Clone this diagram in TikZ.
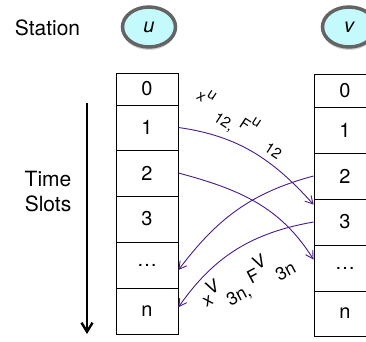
\documentclass[tikz,border=0pt]{standalone}
\usepackage{fontspec}
\setmainfont{TeX Gyre Heros}
\setsansfont{TeX Gyre Heros}
\usetikzlibrary{arrows.meta,shapes.geometric,shadows}
\definecolor{arrowpurple}{RGB}{72,28,140}
\definecolor{stationfill}{RGB}{196,250,252}
\definecolor{ringgray}{RGB}{100,100,100}
\tikzset{
  cell/.style={draw, line width=0.9pt, minimum width=62pt, inner sep=0pt, font=\fontsize{20}{24}\selectfont},
  station/.style={ellipse, draw=ringgray, line width=3.5pt, fill=stationfill, minimum width=53pt, minimum height=40pt, inner sep=0pt,
    drop shadow={shadow xshift=0pt, shadow yshift=-3pt, opacity=0.35}, font=\fontsize{20}{24}\selectfont\itshape},
  plain/.style={font=\fontsize{21}{25}\selectfont, align=center, inner sep=0pt},
  link/.style={arrowpurple, line width=0.9pt, -{Straight Barb[length=7.5pt,width=8.5pt]}},
  timearrow/.style={line width=2.4pt, -{Straight Barb[length=9pt,width=11pt,line width=2.4pt]}},
  lbl/.style={inner sep=0pt}
}
\begin{document}
\begin{tikzpicture}[x=1pt,y=1pt]
\clip (0,0) rectangle (366,-341);
\fill[white] (0,0) rectangle (366,-341);
% labels
\node[plain] (station) at (47.5,-28) {Station};
\node[plain] (timeslots) at (48,-192) {Time\\Slots};
% stations
\node[station] (u) at (149,-27) {u};
\node[station] (v) at (349,-27) {v};
% left column
\node[cell, minimum height=32pt] (L0) at (147,-89) {0};
\node[cell, minimum height=45pt] (L1) at (147,-127.5) {1};
\node[cell, minimum height=46pt] (L2) at (147,-173) {2};
\node[cell, minimum height=46pt] (L3) at (147,-219) {3};
\node[cell, minimum height=46pt] (L4) at (147,-265) {\dots};
\node[cell, minimum height=46pt] (L5) at (147,-311) {n};
% right column
\node[cell, minimum height=33pt] (R0) at (345,-90.5) {0};
\node[cell, minimum height=46pt] (R1) at (345,-130) {1};
\node[cell, minimum height=46pt] (R2) at (345,-176) {2};
\node[cell, minimum height=46pt] (R3) at (345,-222) {3};
\node[cell, minimum height=46pt] (R4) at (345,-268) {\dots};
\node[cell, minimum height=45pt] (R5) at (345,-313.5) {n};
% time arrow
\coordinate (ta) at (87,-103);
\coordinate (tb) at (87,-334);
\draw[timearrow] (ta) -- (tb);
% links
\draw[link] (L1.east) to[out=-8, in=132] (R3.151);
\draw[link] (L2.east) to[out=-15, in=122] (R4.165);
\draw[link] (R2.west) to[out=195, in=53] (L4.-9);
\draw[link] (R3.west) to[out=190, in=55] (L5.7);
% link labels
\node[lbl, rotate=-33, font=\fontsize{15}{17}\selectfont] (labu) at (240,-124)
  {x\raisebox{8pt}{u}\hspace{10pt}\raisebox{-9pt}{12,}\hspace{4pt}F\raisebox{9pt}{u}\hspace{17pt}\raisebox{-7pt}{12}};
\node[lbl, rotate=28, font=\fontsize{18}{21}\selectfont] (labv) at (247,-281)
  {x\raisebox{9pt}{V}\hspace{1pt}\raisebox{-10pt}{3n,}\hspace{4pt}F\raisebox{9pt}{V}\hspace{3pt}\raisebox{-11pt}{3n}};
\end{tikzpicture}
\end{document}
